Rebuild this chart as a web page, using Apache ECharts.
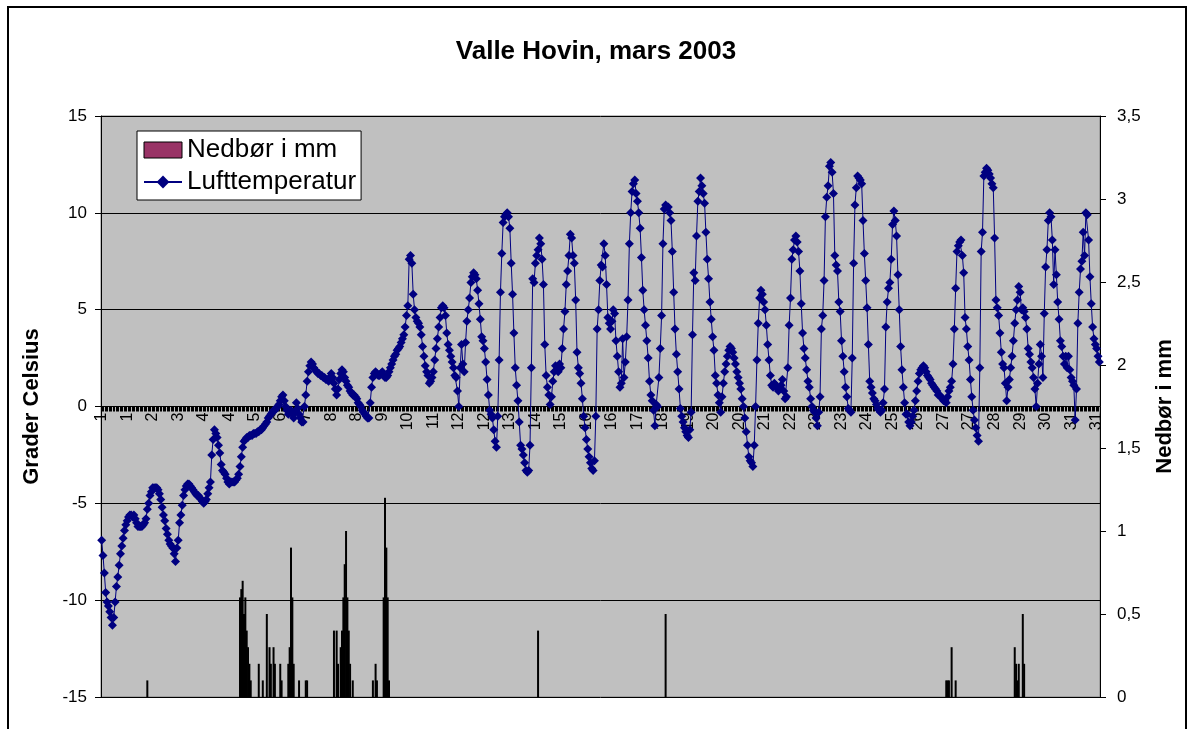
<!DOCTYPE html>
<html>
<head>
<meta charset="utf-8">
<script src="https://cdn.jsdelivr.net/npm/echarts@6/dist/echarts.min.js"></script>
<style>
html,body{margin:0;padding:0;background:#fff;}
#chart{width:1192px;height:729px;}
</style>
</head>
<body>
<div id="chart"></div>
<script>
// Day numbers of March 2003 (each day has 24 hourly readings)
const dayNumbers = [1,2,3,4,5,6,7,8,9,10,11,12,13,14,15,16,17,18,19,20,21,22,23,24,25,26,27,28,29,30,31];

// Hourly air temperature (°C), one row per day, hours 0..23
const airTemperature = [
  -6.9,-7.7,-8.6,-9.6,-10.1,-10.3,-10.6,-10.9,-11.3,-10.9,-10.1,-9.3,-8.8,-8.2,-7.6,-7.2,-6.8,-6.4,-6.1,-5.9,-5.7,-5.6,-5.6,-5.7,
  -5.6,-5.8,-6.0,-6.2,-6.2,-6.2,-6.2,-6.1,-6.0,-5.8,-5.3,-5.0,-4.6,-4.4,-4.2,-4.2,-4.2,-4.2,-4.3,-4.5,-4.8,-5.2,-5.6,-5.9,
  -6.3,-6.6,-6.9,-7.1,-7.2,-7.3,-7.6,-8.0,-7.3,-6.9,-6.0,-5.6,-5.1,-4.6,-4.3,-4.1,-4.0,-4.0,-4.1,-4.2,-4.3,-4.4,-4.5,-4.6,
  -4.6,-4.7,-4.8,-4.9,-5.0,-4.9,-4.8,-4.5,-4.2,-3.9,-2.5,-1.7,-1.2,-1.4,-1.6,-2.0,-2.4,-3.0,-3.3,-3.4,-3.5,-3.7,-3.9,-4.0,
  -3.9,-3.9,-3.9,-3.9,-3.8,-3.7,-3.5,-3.1,-2.6,-2.1,-1.8,-1.7,-1.6,-1.6,-1.5,-1.5,-1.5,-1.4,-1.4,-1.4,-1.3,-1.3,-1.2,-1.2,
  -1.1,-1.0,-0.9,-0.8,-0.6,-0.5,-0.4,-0.3,-0.2,-0.2,-0.1,0.0,0.1,0.3,0.5,0.6,0.3,0.0,-0.2,-0.4,-0.3,-0.2,-0.4,-0.6,
  -0.3,0.2,-0.1,-0.4,-0.6,-0.8,-0.8,0.0,0.6,1.3,1.8,2.1,2.3,2.2,2.0,1.9,1.8,1.7,1.7,1.6,1.6,1.5,1.5,1.4,
  1.4,1.3,1.5,1.7,1.5,1.2,0.9,0.6,0.9,1.4,1.7,1.9,1.8,1.5,1.3,1.1,1.0,0.8,0.7,0.6,0.6,0.5,0.4,0.2,
  0.1,0.0,-0.2,-0.3,-0.4,-0.5,-0.6,-0.6,0.2,1.0,1.5,1.7,1.8,1.7,1.6,1.6,1.7,1.8,1.6,1.5,1.5,1.6,1.8,2.0,
  2.2,2.4,2.6,2.7,2.9,3.0,3.1,3.3,3.5,3.7,4.1,4.7,5.2,7.6,7.8,7.4,5.8,5.0,4.6,4.4,4.3,4.1,3.7,3.1,
  2.6,2.1,1.8,1.6,1.2,1.3,1.5,1.8,2.4,3.0,3.5,4.1,4.6,5.1,5.2,5.1,4.7,3.8,3.2,2.9,2.6,2.3,2.0,1.6,
  1.5,0.8,0.0,2.0,3.2,2.2,1.8,3.3,4.4,5.0,5.6,6.4,6.7,6.9,6.8,6.6,6.0,5.3,4.5,3.6,3.4,3.0,2.3,1.4,
  0.6,-0.2,-0.4,-0.6,-1.2,-1.8,-2.1,-0.5,2.4,5.9,7.9,9.5,9.8,9.9,10.0,9.8,9.2,7.4,5.8,3.8,2.0,1.1,0.3,-0.8,
  -2.0,-2.2,-2.5,-2.9,-3.3,-3.4,-3.3,-2.0,2.0,6.6,6.4,7.4,7.8,8.1,8.7,8.4,7.6,6.3,3.2,1.6,1.0,0.6,0.1,0.5,
  1.3,1.8,2.1,1.9,1.8,2.2,2.0,3.0,4.0,4.9,6.3,7.0,7.8,8.9,8.7,7.8,7.4,5.5,2.8,2.0,1.7,1.2,0.4,-0.5,
  -1.1,-1.7,-2.2,-2.6,-2.9,-3.2,-3.3,-2.8,-0.5,4.0,5.0,6.5,7.3,7.2,8.4,7.8,6.3,4.6,4.3,4.0,4.4,5.0,4.8,3.4,
  2.6,1.8,1.0,1.2,3.5,1.5,2.3,3.6,5.5,8.4,10.0,11.1,11.5,11.7,11.0,10.6,10.0,9.2,7.7,6.0,5.0,4.2,3.4,2.5,
  1.3,0.6,0.3,-0.2,-1.0,0.1,0.0,1.5,3.0,4.7,8.4,10.2,10.4,10.3,10.3,10.0,9.6,8.0,5.9,4.0,2.7,1.8,0.9,-0.1,
  -0.5,-0.8,-1.1,-1.3,-1.5,-1.6,-1.2,-0.3,3.7,6.9,6.5,8.8,10.6,11.1,11.8,11.4,11.0,10.5,9.0,7.6,6.6,5.4,4.5,3.6,
  2.9,1.6,1.2,0.6,0.2,-0.3,0.5,1.2,1.8,2.2,2.6,2.9,3.1,3.0,2.8,2.5,2.2,1.8,1.5,1.2,0.9,0.4,0.0,-0.6,
  -1.3,-2.0,-2.6,-2.8,-2.9,-3.1,-2.0,0.0,2.4,4.3,5.6,6.0,5.8,5.4,5.0,4.2,3.2,2.4,1.6,1.1,1.0,1.2,1.1,1.0,
  0.8,0.9,1.1,1.4,0.8,0.4,0.5,2.0,4.2,5.6,7.6,8.1,8.6,8.8,8.5,8.0,7.0,5.3,3.8,3.0,2.5,1.9,1.3,1.0,
  0.4,0.0,-0.2,-0.3,-0.6,-1.0,-0.3,0.5,4.0,4.7,6.5,9.8,10.8,11.4,12.4,12.6,12.1,11.0,7.8,7.3,7.0,5.4,4.9,3.4,
  2.6,1.8,1.0,0.5,-0.1,-0.2,-0.3,2.5,7.4,10.4,11.3,11.9,11.8,11.7,11.5,9.6,7.9,6.5,5.1,3.2,1.3,1.0,0.7,0.4,
  0.3,0.1,-0.1,-0.2,-0.3,-0.2,0.2,0.9,4.1,5.4,6.1,6.4,7.6,9.4,10.1,9.6,8.8,6.8,5.0,3.1,1.9,1.0,0.2,-0.4,
  -0.4,-0.8,-1.0,-0.8,-0.5,-0.2,0.3,0.8,1.3,1.7,1.9,2.0,2.1,2.0,1.8,1.6,1.5,1.4,1.2,1.1,1.0,0.9,0.8,0.6,
  0.6,0.5,0.4,0.3,0.3,0.2,0.5,0.8,1.0,1.3,2.2,4.0,6.1,8.0,8.3,8.5,8.6,7.8,6.9,4.6,4.0,3.1,2.4,1.4,
  0.5,-0.2,-0.7,-1.1,-1.5,-1.8,2.0,8.0,9.0,11.9,12.1,12.3,12.2,12.0,11.8,11.5,11.3,8.7,5.5,5.1,4.7,3.8,2.8,2.2,
  2.0,1.2,0.3,1.0,1.4,2.0,2.6,3.4,4.3,5.0,5.5,6.2,5.9,5.0,5.1,4.9,4.6,4.0,3.0,2.7,2.3,2.0,1.5,0.9,
  0.0,1.2,2.2,3.2,2.6,1.5,4.8,7.2,8.1,9.6,10.0,9.8,8.6,6.3,8.1,6.8,5.4,4.5,3.4,3.1,2.6,2.2,2.6,2.0,
  2.6,1.9,1.5,1.3,1.1,-0.7,0.9,4.3,5.9,7.1,7.5,9.0,7.8,10.0,9.9,8.6,6.7,5.3,4.1,3.5,3.2,3.0,2.6,2.3
];

// Hours (index from 1 March 00:00) with precipitation, and amounts in mm
const precipHour = [34,103,104,105,106,107,108,109,110,111,117,120,123,125,126,128,129,133,134,139,140,141,142,143,147,152,153,
  173,175,176,178,179,180,181,182,183,184,185,187,202,204,205,210,211,212,213,214,325,420,629,630,631,633,636,680,681,682,683,686,687];
const precipMm = [0.1,0.6,0.65,0.7,0.5,0.6,0.4,0.3,0.2,0.1,0.2,0.1,0.5,0.3,0.2,0.3,0.2,0.2,0.1,0.2,0.3,0.9,0.6,0.2,0.1,0.1,0.1,
  0.4,0.4,0.2,0.3,0.4,0.6,0.8,1.0,0.6,0.4,0.2,0.1,0.1,0.2,0.1,0.6,1.2,0.9,0.6,0.1,0.4,0.5,0.1,0.1,0.1,0.3,0.1,0.3,0.2,0.1,0.2,0.5,0.2];

const leftTicks = {min: -15, max: 15, step: 5};
const rightTicks = {min: 0, max: 3.5, step: 0.5};

// Build category labels and bar data
const categories = [];
dayNumbers.forEach(d => { for (let h = 0; h < 24; h++) categories.push(String(d)); });
const precipSeries = categories.map(() => null);
precipHour.forEach((h, i) => { precipSeries[h] = precipMm[i]; });

const GRID_TOP = 116, GRID_BOTTOM_Y = 697;
// place the category axis where the left axis value is 0
const zeroOffset = -(GRID_BOTTOM_Y - (GRID_TOP + (GRID_BOTTOM_Y - GRID_TOP) * (leftTicks.max / (leftTicks.max - leftTicks.min))));

const FONT = '"Liberation Sans", Arial, sans-serif';
const chart = echarts.init(document.getElementById('chart'), null, {renderer: 'canvas'});
chart.setOption({
  animation: false,
  backgroundColor: '#ffffff',
  textStyle: {fontFamily: FONT, color: '#000'},
  title: {
    text: 'Valle Hovin, mars 2003',
    left: 'center', top: 34,
    textStyle: {fontFamily: FONT, fontSize: 26, fontWeight: 'bold', color: '#000'}
  },
  legend: {
    orient: 'vertical', left: 137, top: 131,
    backgroundColor: '#ffffff', borderColor: '#000', borderWidth: 1,
    padding: [6, 5, 5, 6], itemGap: 6, itemWidth: 38, itemHeight: 16,
    textStyle: {fontFamily: FONT, fontSize: 26, color: '#000'},
    data: [
      {name: 'Nedbør i mm', icon: 'rect', itemStyle: {color: '#993366', borderColor: '#000', borderWidth: 1}},
      {name: 'Lufttemperatur'}
    ]
  },
  graphic: [{
    type: 'rect', shape: {x: 8, y: 7, width: 1178, height: 740},
    style: {fill: 'none', stroke: '#000', lineWidth: 2}, silent: true, z: 100
  }],
  grid: {
    left: 101, right: 92, top: GRID_TOP, bottom: 729 - GRID_BOTTOM_Y,
    show: true, backgroundColor: '#C0C0C0', borderColor: '#808080', borderWidth: 1
  },
  xAxis: {
    type: 'category', data: categories, boundaryGap: true,
    position: 'bottom', offset: zeroOffset,
    axisLine: {onZero: false, lineStyle: {color: '#000', width: 1}},
    axisTick: {show: true, interval: 0, length: 5, lineStyle: {color: '#000', width: 1}},
    axisLabel: {interval: 18, rotate: 90, fontSize: 16, margin: 6, color: '#000', fontFamily: FONT},
    splitLine: {show: false}
  },
  yAxis: [{
    type: 'value', position: 'left',
    min: leftTicks.min, max: leftTicks.max, interval: leftTicks.step,
    name: 'Grader Celsius', nameLocation: 'middle', nameGap: 58, nameRotate: 90,
    nameTextStyle: {fontFamily: FONT, fontSize: 22, fontWeight: 'bold', color: '#000'},
    axisLine: {show: true, lineStyle: {color: '#000'}},
    axisTick: {show: true, length: 6, lineStyle: {color: '#000'}},
    axisLabel: {fontSize: 17, color: '#000', margin: 14, fontFamily: FONT},
    splitLine: {show: true, lineStyle: {color: '#000', width: 1}}
  }, {
    type: 'value', position: 'right',
    min: rightTicks.min, max: rightTicks.max, interval: rightTicks.step,
    name: 'Nedbør i mm', nameLocation: 'middle', nameGap: 54, nameRotate: 90,
    nameTextStyle: {fontFamily: FONT, fontSize: 22, fontWeight: 'bold', color: '#000'},
    axisLine: {show: true, lineStyle: {color: '#000'}},
    axisTick: {show: true, length: 6, lineStyle: {color: '#000'}},
    axisLabel: {fontSize: 17, color: '#000', margin: 17, fontFamily: FONT,
      formatter: v => String(v).replace('.', ',')},
    splitLine: {show: false}
  }],
  series: [{
    name: 'Nedbør i mm', type: 'bar', yAxisIndex: 1, xAxisIndex: 0,
    data: precipSeries, barWidth: 2, barGap: '-100%',
    itemStyle: {color: '#000'}
  }, {
    name: 'Lufttemperatur', type: 'line', yAxisIndex: 0,
    data: airTemperature,
    symbol: 'diamond', symbolSize: 9, showAllSymbol: true,
    itemStyle: {color: '#000080'},
    lineStyle: {color: '#000080', width: 1},
    z: 3
  }]
});
</script>
</body>
</html>
